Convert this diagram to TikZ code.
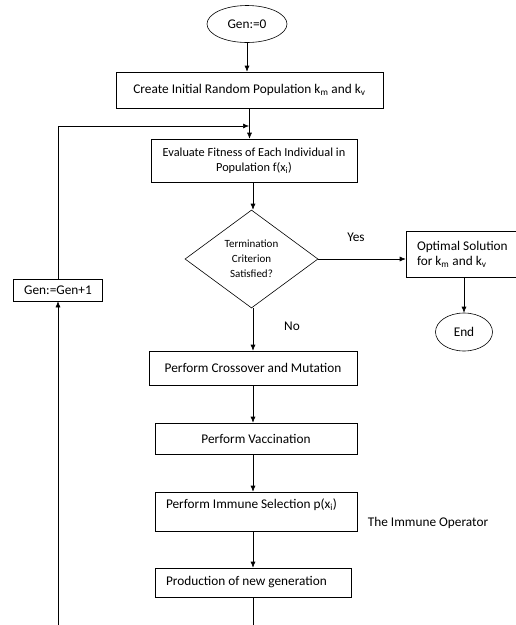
\documentclass[tikz,border=0pt]{standalone}
\usepackage{fontspec}
\setmainfont{Carlito}
\usetikzlibrary{shapes.geometric, arrows.meta}

\begin{document}
\begin{tikzpicture}[x=1pt, y=-1pt, >={Latex[length=6pt,width=5pt]}, line width=0.6pt]
\clip (0,0) rectangle (516,625);
\tikzstyle{every node} = [font=\fontsize{13.3}{15}\selectfont]
\tikzstyle{box} = [draw, rectangle, inner sep=2pt, align=center]
\tikzstyle{leftbox} = [draw, rectangle, inner ysep=2pt, inner xsep=11pt, align=flush left]
\tikzstyle{oval} = [draw, ellipse, inner sep=1pt]
\node[oval, minimum width=80, minimum height=37] (gen0) at (247,24) {Gen:=0};
\node[box, minimum width=267, minimum height=36] (create) at (249.5,90) {Create Initial Random Population k\textsubscript{m} and k\textsubscript{v}};
\node[box, minimum width=206, minimum height=43, font=\fontsize{12.3}{15}\selectfont] (eval) at (254,160.5) {Evaluate Fitness of Each Individual in\\Population f(x\textsubscript{i})};
\node[draw, diamond, minimum width=133, minimum height=98, inner sep=0pt, align=center, font=\fontsize{11}{15}\selectfont] (dia) at (251.5,259) {Termination\\Criterion\\Satisfied?};
\node[leftbox, text width=96, minimum height=46] (opt) at (465,254) {Optimal Solution\\for k\textsubscript{m} and k\textsubscript{v}};
\node[oval, minimum width=57, minimum height=38] (end) at (464,332) {End};
\node[box, minimum width=89, minimum height=22] (genp) at (58,290) {Gen:=Gen+1};
\node[box, minimum width=208, minimum height=34] (cross) at (253,368) {Perform Crossover and Mutation};
\node[box, minimum width=202, minimum height=31] (vacc) at (256,438.5) {Perform Vaccination};
\node[leftbox, text width=180, minimum height=39, text height=9pt, text depth=15pt] (imm) at (256,511.5) {Perform Immune Selection p(x\textsubscript{i})};
\node[leftbox, text width=174, minimum height=29] (prod) at (253,582.5) {Production of new generation};
\node (yes) at (356,237) {Yes};
\node (no) at (292,326) {No};
\node (immop) at (428,523) {The Immune Operator};
\coordinate (axis) at (253,0);
\coordinate (join) at (249,126);
\coordinate (bot) at (0,632);
\draw[->] (gen0) -- (gen0 |- create.north);
\draw[->] (create) -- (create |- eval.north);
\draw[->] (genp) |- (join);
\foreach \from/\to in {eval/dia, dia/cross, cross/vacc, vacc/imm, imm/prod}
\draw[->] (axis |- \from.south) -- (axis |- \to.north);
\draw (axis |- prod.south) -- (axis |- bot);
\draw[->] (genp |- bot) -- (genp.south);
\draw[->] (dia.east) -- (dia.east -| opt.west);
\draw[->] (end |- opt.south) -- (end);
\end{tikzpicture}
\end{document}
